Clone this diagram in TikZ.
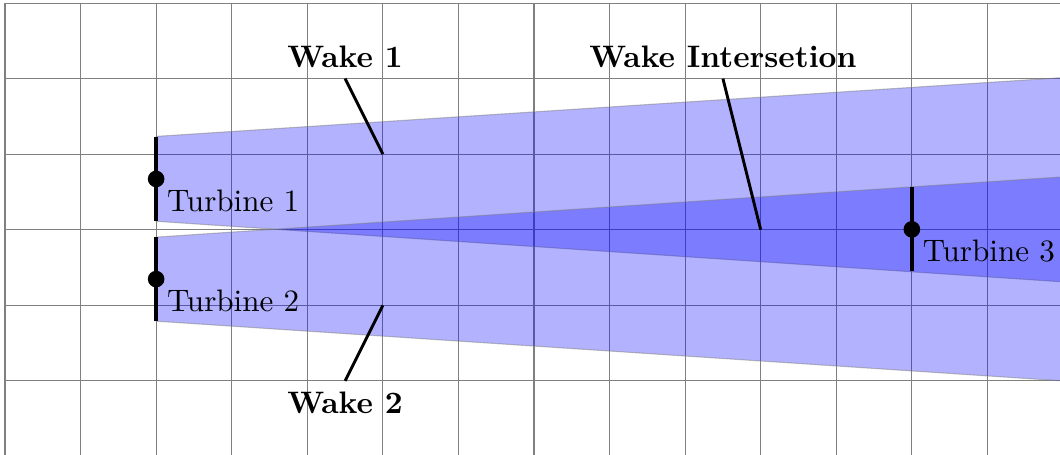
\documentclass[tikz,border=0pt]{standalone}
\begin{document}
\begin{tikzpicture}[
  txt/.style={font=\fontsize{10}{12}\selectfont, scale=1.17, transform shape},
  wake/.style={fill=blue, fill opacity=0.3, draw=gray, draw opacity=0.5, line width=0.4pt},
  turbine/.style={line width=1.5pt},
  hub/.style={circle, fill=black, inner sep=0pt, minimum size=0.22cm},
  lbl/.style={font=\fontsize{10}{12}\selectfont\bfseries, scale=1.17, transform shape},
  pointer/.style={line width=1.1pt},
  tlabel/.style={txt, anchor=north west}
]
\useasboundingbox (-0.066,-2.976) rectangle (13.96,3.04);
\clip (-0.066,-2.976) rectangle (13.96,3.04);
\draw[gray, line width=0.4pt] (0,-3) grid (14,3);

% wakes
\path[wake] (2,1.235) -- (14,2.013) -- (14,-0.690) -- (2,0.112) -- cycle;
\path[wake] (2,-0.098) -- (14,0.700) -- (14,-2.000) -- (2,-1.210) -- cycle;

% turbines
\coordinate (t1a) at (2,0.117); \coordinate (t1b) at (2,1.227);
\coordinate (t2a) at (2,-1.21); \coordinate (t2b) at (2,-0.097);
\coordinate (t3a) at (12,-0.55); \coordinate (t3b) at (12,0.565);
\draw[turbine] (t1a) -- (t1b);
\draw[turbine] (t2a) -- (t2b);
\draw[turbine] (t3a) -- (t3b);
\node[hub] (h1) at (2,0.672) {};
\node[hub] (h2) at (2,-0.653) {};
\node[hub] (h3) at (12,0.005) {};
\node[tlabel] (l1) at (h1.center) {Turbine 1};
\node[tlabel] (l2) at (h2.center) {Turbine 2};
\node[tlabel] (l3) at (h3.center) {Turbine 3};

% labels
\node[lbl, anchor=south] (w1) at (4.5,2) {Wake 1};
\node[lbl, anchor=north] (w2) at (4.5,-2) {Wake 2};
\node[lbl, anchor=south] (wi) at (9.5,2) {Wake Intersetion};
\coordinate (w1p) at (5,1);
\coordinate (w2p) at (5,-1);
\coordinate (wip) at (10,0);
\draw[pointer] (w1.south) -- (w1p);
\draw[pointer] (w2.north) -- (w2p);
\draw[pointer] (wi.south) -- (wip);
\end{tikzpicture}
\end{document}
